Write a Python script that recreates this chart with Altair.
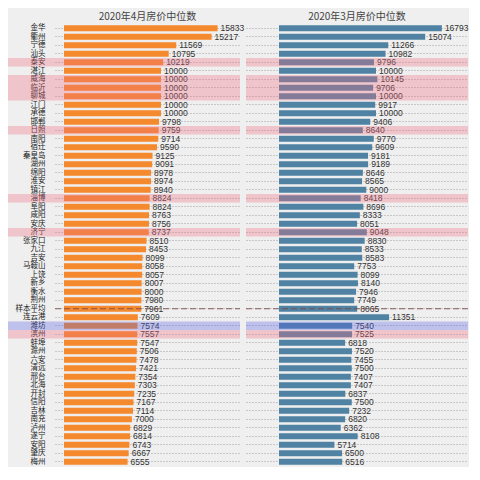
import altair as alt
import pandas as pd

cities = ["金华", "衢州", "宁德", "汕头", "泰安", "湛江", "威海", "临沂", "聊城", "江门",
          "承德", "邯郸", "日照", "南阳", "宿迁", "秦皇岛", "湖州", "绵阳", "淮安", "镇江",
          "淄博", "阜阳", "咸阳", "安庆", "济宁", "张家口", "九江", "吉安", "马鞍山", "上饶",
          "新乡", "衡水", "荆州", "样本平均", "连云港", "潍坊", "滨州", "蚌埠", "滁州", "六安",
          "清远", "邢台", "北海", "开封", "信阳", "吉林", "南充", "泸州", "遂宁", "安阳",
          "肇庆", "梅州"]
apr = [15833, 15217, 11569, 10795, 10219, 10000, 10000, 10000, 10000, 10000,
       10000, 9798, 9759, 9714, 9590, 9125, 9091, 8978, 8974, 8940,
       8824, 8824, 8763, 8756, 8737, 8510, 8453, 8099, 8058, 8057,
       8007, 8000, 7980, 7961, 7609, 7574, 7557, 7547, 7506, 7478,
       7421, 7354, 7303, 7235, 7167, 7114, 7000, 6829, 6814, 6743,
       6667, 6555]
mar = [16793, 15074, 11266, 10982, 9796, 10000, 10145, 9706, 10000, 9917,
       10000, 9406, 8640, 9770, 9609, 9181, 9189, 8646, 8565, 9000,
       8418, 8696, 8333, 8051, 9048, 8830, 8533, 8583, 7753, 8099,
       8140, 7946, 7749, 8065, 11351, 7540, 7525, 6818, 7520, 7455,
       7500, 7407, 7407, 6837, 7500, 7232, 6820, 6362, 8108, 5714,
       6500, 6516]
pink_rows = ["泰安", "威海", "临沂", "聊城", "日照", "淄博", "济宁", "滨州"]
blue_rows = ["潍坊"]
avg_row = "样本平均"
titles = ["2020年4月房价中位数", "2020年3月房价中位数"]

df = pd.DataFrame({"city": cities, "apr": apr, "mar": mar})
df["hl"] = ["pink" if c in pink_rows else ("blue" if c in blue_rows else "none") for c in cities]

FONT = "Noto Sans CJK SC"
LABEL_FONT = "Liberation Serif, Noto Sans CJK SC"
H = 442
ORANGE = "#f5892e"
BLUE = "#4f82a3"
LEFT_AXIS = 47


def panel(field, color, title, width, domain, left_ext, show_labels):
    y = alt.Y("city:N", sort=cities,
              scale=alt.Scale(paddingInner=0, paddingOuter=0),
              axis=alt.Axis(title=None, labels=show_labels, ticks=False, domain=False,
                            grid=True, gridDash=[1, 2], gridColor="#8a8a8a", gridWidth=0.8,
                            bandPosition=0.5, labelFont=LABEL_FONT, labelFontSize=7.5,
                            labelColor="#222222", labelPadding=10, labelOverlap=False,
                            minExtent=LEFT_AXIS if show_labels else 0,
                            maxExtent=LEFT_AXIS if show_labels else 0))
    x = alt.X(f"{field}:Q", scale=alt.Scale(domain=domain), axis=None)
    base = alt.Chart(df)
    bars = base.mark_bar(color=color, height={"band": 0.7}).encode(x=x, y=y)
    text = base.mark_text(align="left", dx=3, fontSize=8.5, color="#333333",
                          font="Liberation Sans").encode(
        x=x, y=alt.Y("city:N", sort=cities), text=alt.Text(f"{field}:Q", format="d"))
    rule = base.transform_filter(alt.datum.city == avg_row).mark_rule(
        color="#7a4848", strokeDash=[6, 3], strokeWidth=1.2, opacity=0.85).encode(
        y=alt.Y("city:N", sort=cities), x=alt.value(0), x2=alt.value(width))
    bands = base.transform_filter(alt.datum.hl != "none").mark_rect(opacity=0.33).encode(
        y=alt.Y("city:N", sort=cities), x=alt.value(-left_ext), x2=alt.value(width),
        color=alt.Color("hl:N", scale=alt.Scale(domain=["pink", "blue"],
                                                 range=["#f06e82", "#5a64e6"]), legend=None))
    return alt.layer(bars, text, rule, bands).properties(
        width=width, height=H,
        title=alt.TitleParams(title, fontSize=10, fontWeight="normal", color="#444444",
                              font=FONT, offset=2, anchor="middle"))


left = panel("apr", ORANGE, titles[0], 185, [-928, 18144], LEFT_AXIS, True)
right = panel("mar", BLUE, titles[1], 222, [-3402, 19485], 0, False)

chart = alt.hconcat(left, right, spacing=0).properties(
    padding={"left": 0, "top": 3, "right": 0, "bottom": 0}
).configure(background="#efefef").configure_view(strokeWidth=0)

chart.save("out.html", embed_options={"renderer": "svg", "actions": False})
